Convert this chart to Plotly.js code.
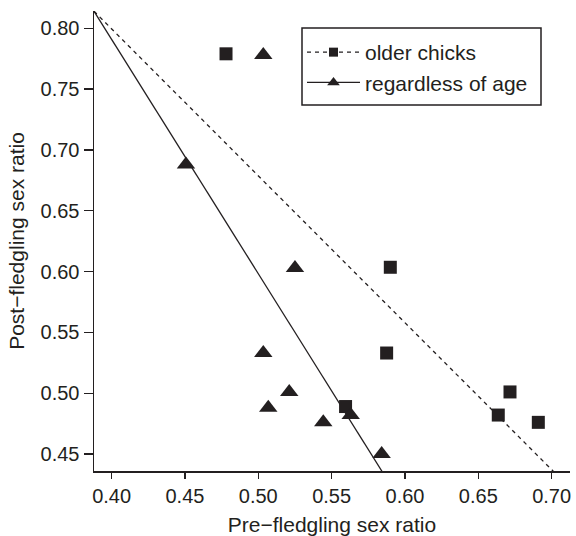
<!DOCTYPE html>
<html>
<head>
<meta charset="utf-8">
<script src="https://cdn.plot.ly/plotly-3.0.1.min.js"></script>
<style>html,body{margin:0;padding:0;background:#fff;}#chart{width:576px;height:536px;}</style>
</head>
<body>
<div id="chart"></div>
<script>
// ---- data ----
var seriesNames = ['older chicks', 'regardless of age'];
var olderX = [0.478, 0.590, 0.5875, 0.5595, 0.6716, 0.6636, 0.6909];
var olderY = [0.779, 0.6035, 0.533, 0.489, 0.501, 0.482, 0.476];
var allX = [0.5034, 0.4507, 0.525, 0.5034, 0.5068, 0.5211, 0.5443, 0.563, 0.5841];
var allY = [0.778, 0.688, 0.603, 0.533, 0.488, 0.501, 0.476, 0.482, 0.450];
// fitted regression lines: y = intercept + slope * x
var fitIntercepts = [1.2827, 1.5617];
var fitSlopes = [-1.208, -1.927];
var xTicks = [0.40, 0.45, 0.50, 0.55, 0.60, 0.65, 0.70];
var yTicks = [0.45, 0.50, 0.55, 0.60, 0.65, 0.70, 0.75, 0.80];

var xRange = [0.388, 0.7125];
var yRange = [0.436, 0.8142];
var ink = '#231f20';
var font = 'Liberation Sans, Arial, Helvetica, sans-serif';

function fitLine(i) {
  return xRange.map(function (x) { return fitIntercepts[i] + fitSlopes[i] * x; });
}

var traces = [
  {x: xRange, y: fitLine(0), mode: 'lines', line: {color: ink, width: 1.3, dash: '4px,4px'}, showlegend: false, hoverinfo: 'skip'},
  {x: xRange, y: fitLine(1), mode: 'lines', line: {color: ink, width: 1.3}, showlegend: false, hoverinfo: 'skip'},
  {x: olderX, y: olderY, mode: 'markers', marker: {symbol: 'square', size: 13, color: ink}, showlegend: false},
  {x: allX, y: allY, mode: 'markers', marker: {symbol: 'triangle-up', size: 16, color: ink}, showlegend: false},
  {x: [null], y: [null], name: seriesNames[0], mode: 'lines+markers', line: {color: ink, width: 1.3, dash: '4px,4px'}, marker: {symbol: 'square', size: 9, color: ink}},
  {x: [null], y: [null], name: seriesNames[1], mode: 'lines+markers', line: {color: ink, width: 1.3}, marker: {symbol: 'triangle-up', size: 11, color: ink}}
];

var axisCommon = {
  showgrid: false, zeroline: false, showline: true, linecolor: ink, linewidth: 1.5,
  ticks: 'outside', tickcolor: ink, tickwidth: 1.2, mirror: false,
  tickfont: {family: font, size: 20, color: ink}
};

var layout = {
  width: 576, height: 536,
  margin: {l: 94, r: 6, t: 11, b: 65},
  paper_bgcolor: '#fff', plot_bgcolor: '#fff',
  font: {family: font, color: ink},
  xaxis: Object.assign({}, axisCommon, {
    range: xRange, tickvals: xTicks, ticktext: xTicks.map(function (v) { return v.toFixed(2); }),
    ticklen: 6,
    title: {text: 'Pre\u2212fledgling sex ratio', font: {family: font, size: 21, color: ink}, standoff: 14}
  }),
  yaxis: Object.assign({}, axisCommon, {
    range: yRange, tickvals: yTicks, ticktext: yTicks.map(function (v) { return v.toFixed(2); }),
    ticklen: 9,
    title: {text: 'Post\u2212fledgling sex ratio', font: {family: font, size: 21, color: ink}, standoff: 10}
  }),
  shapes: [{
    type: 'rect', xref: 'paper', yref: 'paper',
    x0: (302 - 94) / 476, x1: (541 - 94) / 476,
    y0: 1 - (105 - 11) / 460, y1: 1 - (28 - 11) / 460,
    line: {color: ink, width: 1.5}, fillcolor: 'rgba(0,0,0,0)', layer: 'above'
  }],
  legend: {
    x: (302 - 94) / 476, y: 1 - (32 - 11) / 460, xanchor: 'left', yanchor: 'top',
    borderwidth: 0, bgcolor: 'rgba(0,0,0,0)',
    font: {family: font, size: 21, color: ink},
    itemwidth: 53, tracegroupgap: 0
  }
};

Plotly.newPlot('chart', traces, layout, {displayModeBar: false, staticPlot: true});
</script>
</body>
</html>
